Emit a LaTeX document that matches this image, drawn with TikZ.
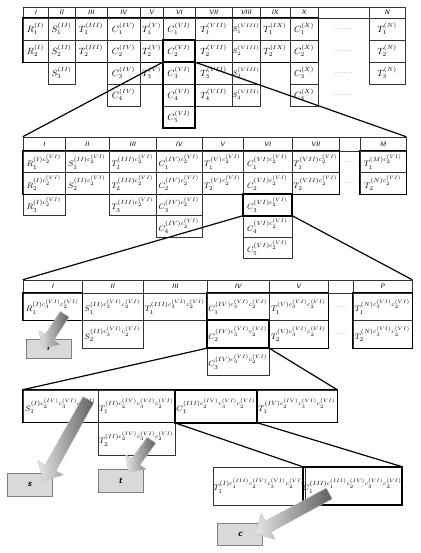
\documentclass[tikz,border=0pt]{standalone}
\usepackage{amsmath}
\usetikzlibrary{shapes.arrows, calc, positioning}

\tikzset{
  cell/.style={draw=black!80, line width=0.5pt, inner sep=0pt, font=\fontsize{8.5}{10}\selectfont},
  big cell/.style={cell, font=\fontsize{#1}{11}\selectfont},
  head/.style={cell, font=\fontsize{6.5}{7}\sffamily\itshape},
  dotcell/.style={inner sep=0pt, text=gray, font=\fontsize{7}{7}\selectfont},
  hl/.style={line width=1.6pt},
  frame/.style={line width=1pt},
  zoom line/.style={line width=1.2pt},
  label box/.style={draw=gray, fill=gray!30, minimum width=45pt, minimum height=21pt,
    inner sep=0pt, font=\sffamily\bfseries\itshape\small},
  fat arrow/.style={single arrow, draw=gray!50, left color=gray!20, right color=gray!75!black,
    inner sep=5pt, single arrow head extend=7.5pt}
}

% fat arrow from #2 (tail) to #3 (tip)
\newcommand\fatarrow[3][]{%
  \path let \p1=($(#3)-(#2)$), \n1={atan2(\y1,\x1)}, \n2={veclen(\x1,\y1)} in
    node[fat arrow, minimum height=\n2, rotate=\n1, #1] at ($(#2)!0.5!(#3)$) {};}

\begin{document}
\begin{tikzpicture}[x=1pt,y=-1pt]
  \useasboundingbox (0,0) rectangle (420,553);

  % first table
  \foreach \cn/\xa/\xb/\ltr/\nr/\fs in {I/23/48/R/2/9, II/48/75/S/3/9, III/75/107/T/2/9, IV/107/140/C/4/9,
      V/140/163/T/3/9, VI/163/195/C/5/9, VII/195/232/T/4/9, VIII/232/260/S/4/7.5, IX/260/290/T/2/9,
      X/290/318/C/4/9, N/369/405/T/3/9} {
    \node[head, minimum width={(\xb-\xa)*1pt}, minimum height=11pt] (A-\cn-h) at ({(\xa+\xb)/2},12.5) {\cn};
    \foreach \r in {1,...,\nr}
      \node[big cell=\fs, minimum width={(\xb-\xa)*1pt}, minimum height=22pt] (A-\cn-\r)
        at ({(\xa+\xb)/2},{7+22*\r}) {$\ltr_{\r}^{(\cn)}$};
  }
  \node[head, minimum width=51pt, minimum height=11pt] (A-dots-h) at (343.5,12.5) {};
  \foreach \r in {1,...,4}
    \node[dotcell] (A-dots-\r) at (343.5,{7+22*\r}) {........};
  \draw[frame] (A-I-1.north west) rectangle (A-X-2.south east);
  \draw[hl] (A-VI-2.north west) rectangle (A-VI-5.south east);
  \draw[hl] (A-VI-2.north west) rectangle (A-VI-2.south east);

  % second table
  \foreach \cn/\xa/\xb/\ltr/\nr in {I/23/65/R/3, II/65/109/S/2, III/109/156/T/3, IV/156/202/C/4,
      V/202/243/T/2, VI/243/292/C/5, VII/292/339/T/2} {
    \node[head, minimum width={(\xb-\xa)*1pt}, minimum height=14pt] (B-\cn-h) at ({(\xa+\xb)/2},144) {\cn};
    \foreach \r in {1,...,\nr}
      \node[cell, minimum width={(\xb-\xa)*1pt}, minimum height=21.5pt] (B-\cn-\r)
        at ({(\xa+\xb)/2},{140.25+21.5*\r}) {$\ltr_{\r}^{(\cn)c_2^{(VI)}}$};
  }
  \node[head, minimum width=21pt, minimum height=14pt] (B-dots-h) at (349.5,144) {};
  \node[head, minimum width=46pt, minimum height=14pt] (B-M-h) at (383,144) {M};
  \foreach \r in {1,2}
    \node[dotcell] (B-dots-\r) at (349.5,{140.25+21.5*\r}) {.....};
  \node[cell, minimum width=46pt, minimum height=21.5pt] (B-M-1) at (383,161.75) {$T_1^{(M)c_2^{(VI)}}$};
  \node[cell, minimum width=46pt, minimum height=21.5pt] (B-M-2) at (383,183.25) {$T_2^{(N)c_2^{(VI)}}$};
  \draw[frame] (B-I-1.north west) rectangle (B-VII-2.south east);
  \draw[frame] (B-M-1.north west) rectangle (B-M-2.south east);
  \draw[hl] (B-VI-3.north west) rectangle (B-VI-3.south east);

  \draw[zoom line] (A-VI-2.south west) -- (B-I-h.north west);
  \draw[zoom line] (A-VI-2.south east) -- (B-M-h.north east);

  % third table
  \foreach \cn/\xa/\xb/\ltr/\nr in {I/23/82/R/1, II/82/143/S/2, III/143/207/T/1, IV/207/269/C/3,
      V/269/328/T/2} {
    \node[head, minimum width={(\xb-\xa)*1pt}, minimum height=13pt] (C-\cn-h) at ({(\xa+\xb)/2},286.5) {\cn};
    \foreach \r in {1,...,\nr}
      \node[cell, minimum width={(\xb-\xa)*1pt}, minimum height=27.5pt] (C-\cn-\r)
        at ({(\xa+\xb)/2},{279.25+27.5*\r}) {$\ltr_{\r}^{(\cn)c_3^{(VI)}c_2^{(VI)}}$};
  }
  \node[head, minimum width=25pt, minimum height=13pt] (C-dots-h) at (340.5,286.5) {};
  \node[head, minimum width=59pt, minimum height=13pt] (C-P-h) at (382.5,286.5) {P};
  \foreach \r in {1,2} {
    \node[dotcell] (C-dots-\r) at (340.5,{279.25+27.5*\r}) {......};
    \node[cell, minimum width=59pt, minimum height=27.5pt] (C-P-\r)
      at (382.5,{279.25+27.5*\r}) {$T_{\r}^{(N)c_3^{(VI)}c_2^{(VI)}}$};
  }
  \draw[frame] (C-I-1.north west) rectangle (C-I-1.south east);
  \draw[frame] (C-IV-1.north west) rectangle (C-V-2.south east);
  \draw[frame] (C-P-1.north west) rectangle (C-P-2.south east);
  \draw[hl] (C-IV-2.north west) rectangle (C-IV-2.south east);

  \draw[zoom line] (B-VI-3.south west) -- (C-I-h.north west);
  \draw[zoom line] (B-VI-3.south east) -- (C-P-h.north east);

  % fourth table
  \foreach \cn/\xa/\xb/\ltr/\nr in {I/23/98/S/1, II/98/175/T/2, III/175/257/C/1, IV/257/337/T/1}
    \foreach \r in {1,...,\nr}
      \node[cell, minimum width={(\xb-\xa)*1pt}, minimum height=32.5pt] (D-\cn-\r)
        at ({(\xa+\xb)/2},{373.75+32.5*\r}) {$\ltr_{\r}^{(\cn)c_2^{(IV)}c_3^{(VI)}c_2^{(VI)}}$};
  \draw[frame] (D-I-1.north west) rectangle (D-IV-1.south east);
  \draw[hl] (D-III-1.north west) rectangle (D-III-1.south east);

  \draw[zoom line] (C-IV-2.south west) -- (D-I-1.north west);
  \draw[zoom line] (C-IV-2.south east) -- (D-IV-1.north east);

  % fifth table
  \node[cell, minimum width=92pt, minimum height=38pt] (E-1) at (259,486)
    {$T_1^{(I)c_1^{(III)}c_2^{(IV)}c_3^{(VI)}c_2^{(VI)}}$};
  \node[cell, minimum width=95pt, minimum height=38pt] (E-2) at (352.5,486)
    {$C_1^{(III)c_1^{(III)}c_2^{(IV)}c_3^{(VI)}c_2^{(VI)}}$};
  \draw[hl] (E-2.north west) rectangle (E-2.south east);

  \draw[zoom line] (D-III-1.south west) -- (E-2.north west);
  \draw[zoom line] (D-III-1.south east) -- (E-2.north east);

  % result boxes
  \node[label box, minimum height=19pt] (r) at (48.5,348.5) {r};
  \node[label box, minimum height=23pt] (s) at (29.5,484.5) {s};
  \node[label box, minimum height=23pt] (t) at (120.5,480.5) {t};
  \node[label box, minimum height=22pt] (c) at (240,534) {c};

  \coordinate (r-tail) at (66,312);   \coordinate (r-tip) at (44,346);
  \coordinate (s-tail) at (90,397);   \coordinate (s-tip) at (45,478);
  \coordinate (t-tail) at (153,438);  \coordinate (t-tip) at (130,470);
  \coordinate (c-tail) at (332,492);  \coordinate (c-tip) at (258,532);
  \fatarrow{r-tail}{r-tip}
  \fatarrow[inner sep=6pt, single arrow head extend=8.5pt]{s-tail}{s-tip}
  \fatarrow{t-tail}{t-tip}
  \fatarrow[inner sep=6pt, single arrow head extend=8.5pt]{c-tail}{c-tip}
\end{tikzpicture}
\end{document}
